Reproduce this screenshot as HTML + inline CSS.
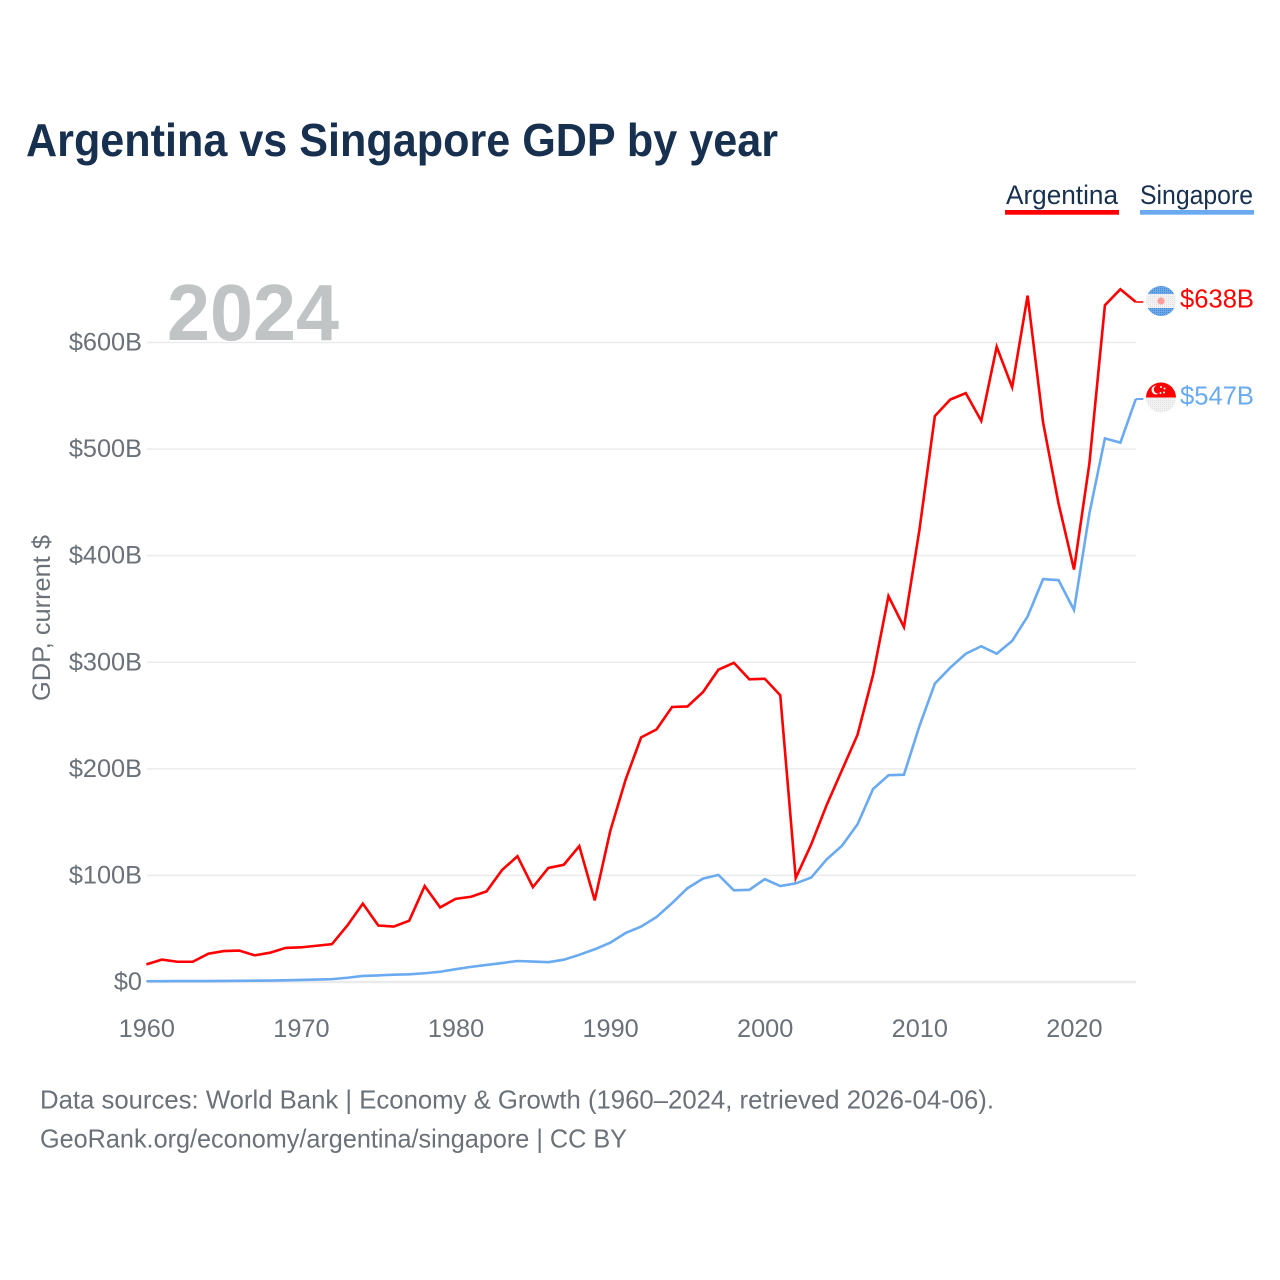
<!DOCTYPE html>
<html lang="en">
<head>
<meta charset="utf-8">
<title>Argentina vs Singapore GDP by year</title>
<style>
html,body{margin:0;padding:0;background:#fff;}
svg{display:block;font-family:"Liberation Sans",sans-serif;}
</style>
</head>
<body>
<svg id="chart" xmlns="http://www.w3.org/2000/svg" width="1280" height="1280" viewBox="0 0 1280 1280">
  <defs>
    <pattern id="dots" width="2" height="2" patternUnits="userSpaceOnUse">
      <rect width="2" height="2" fill="#f1f1f1"/>
      <rect width="1" height="1" fill="#e2e2e2"/>
    </pattern>
    <pattern id="blue-dots" width="2" height="2" patternUnits="userSpaceOnUse">
      <rect width="2" height="2" fill="#6aa9ea"/>
      <rect width="1" height="1" fill="#4c86cf"/>
    </pattern>
    <clipPath id="ar-clip"><circle cx="1161" cy="301" r="15"/></clipPath>
    <clipPath id="sg-clip"><circle cx="1161" cy="397.5" r="15"/></clipPath>
  </defs>

  <text x="26" y="156" font-size="46" font-weight="700" fill="#18304f" textLength="752" lengthAdjust="spacingAndGlyphs">Argentina vs Singapore GDP by year</text>

  <g>
    <g>
      <text x="1006" y="204" font-size="27" fill="#18304f" textLength="112" lengthAdjust="spacingAndGlyphs">Argentina</text>
      <rect x="1005" y="210" width="114" height="4.7" fill="#ff0000"/>
    </g>
    <g>
      <text x="1140" y="204" font-size="27" fill="#18304f" textLength="113" lengthAdjust="spacingAndGlyphs">Singapore</text>
      <rect x="1140" y="210" width="114" height="4.7" fill="#6aaaf0"/>
    </g>
  </g>

  <g id="grid"></g>
  <text x="167" y="340" font-size="80" font-weight="700" fill="#c1c4c5" textLength="172" lengthAdjust="spacingAndGlyphs">2024</text>
  <g id="yticks"></g>
  <g id="xticks"></g>
  <text transform="translate(50,618) rotate(-90)" text-anchor="middle" font-size="25" fill="#6a7178" textLength="166" lengthAdjust="spacingAndGlyphs">GDP, current $</text>
  <g id="series"></g>

  <g>
    <g clip-path="url(#ar-clip)">
      <rect x="1146" y="286" width="30" height="30" fill="url(#dots)"/>
      <rect x="1146" y="286" width="30" height="8" fill="url(#blue-dots)"/>
      <rect x="1146" y="308" width="30" height="8" fill="url(#blue-dots)"/>
      <circle cx="1161" cy="301" r="3.6" fill="#ff9d9d"/>
    </g>
  </g>
  <g>
    <g clip-path="url(#sg-clip)">
      <rect x="1146" y="382.5" width="30" height="30" fill="url(#dots)"/>
      <rect x="1146" y="382.5" width="30" height="15" fill="#ff0000"/>
      <circle cx="1156" cy="390" r="4.5" fill="#fff"/>
      <circle cx="1158" cy="389.5" r="4.2" fill="#ff0000"/>
      <circle cx="1161" cy="387" r="1" fill="#fff"/>
      <circle cx="1164.5" cy="388.5" r="1" fill="#fff"/>
      <circle cx="1164" cy="392.5" r="1" fill="#fff"/>
      <circle cx="1160.5" cy="393" r="1" fill="#fff"/>
    </g>
  </g>

  <text x="1180" y="307.5" font-size="26" fill="#ff0000" textLength="74" lengthAdjust="spacingAndGlyphs">$638B</text>
  <text x="1180" y="404.5" font-size="26" fill="#6aaaf0" textLength="74" lengthAdjust="spacingAndGlyphs">$547B</text>

  <text x="40" y="1108.5" font-size="26" fill="#6a7178" textLength="954" lengthAdjust="spacingAndGlyphs">Data sources: World Bank | Economy &amp; Growth (1960–2024, retrieved 2026-04-06).</text>
  <text x="40" y="1147.5" font-size="26" fill="#6a7178" textLength="587" lengthAdjust="spacingAndGlyphs">GeoRank.org/economy/argentina/singapore | CC BY</text>
</svg>
<script>
const firstYear = 1960;
const argentinaValues = [16.5,21,19,19,26.5,29,29.5,25,27.5,32,32.5,34,35.5,53,73.5,53,52,57.5,90,70,78,80,85,105,118,89,107,110,127.5,76.6,141.5,190,229.5,237,258,258.5,272,293,299.5,284,284.5,269,97.5,129,166,199,232,288,362,333,424,531,546.5,552.5,526.5,596,558,644,525,449,387,487,635,650,638];
const singaporeValues = [0.7,0.8,0.9,0.9,0.9,1,1.1,1.2,1.3,1.6,1.9,2.3,2.7,4,5.7,6.2,6.9,7.2,8.2,9.6,12,14.2,16,17.8,19.7,19.2,18.6,20.9,25.5,30.7,36.9,46,52,61,74,88,97,100.5,86,86.5,96.5,90,92.5,98,115,128,148,181,194,194.5,240,280,295,308,315,308,320,343,378,377,349,440,510,506,547];
const yTickValues = [0,100,200,300,400,500,600];
const yTickLabels = ["$0","$100B","$200B","$300B","$400B","$500B","$600B"];
const xTickYears = [1960,1970,1980,1990,2000,2010,2020];

const NS = "http://www.w3.org/2000/svg";
function xScale(year){ return 146.4 + (year - 1960) * 15.46; }
function yScale(value){ return 982 - value * (982 - 342.5) / 600; }
function make(tag, attrs){
  const el = document.createElementNS(NS, tag);
  for (const k in attrs) el.setAttribute(k, attrs[k]);
  return el;
}

const grid = document.getElementById("grid");
const yticks = document.getElementById("yticks");
yTickValues.forEach(function(v, i){
  const line = make("line", {x1:147, x2:1136, y1:yScale(v), y2:yScale(v), stroke:"#ebebeb", "stroke-width": v === 0 ? 2.5 : 1.5});
  
  
  grid.appendChild(line);
  const label = make("text", {x:142, y:yScale(v) + 8, "text-anchor":"end", "font-size":25.3, fill:"#6a7178"});
  
  
  label.textContent = yTickLabels[i];
  yticks.appendChild(label);
});

const xticks = document.getElementById("xticks");
xTickYears.forEach(function(year){
  const label = make("text", {x:xScale(year) + 0.4, y:1037, "text-anchor":"middle", "font-size":25.3, fill:"#6a7178"});
  
  
  label.textContent = String(year);
  xticks.appendChild(label);
});

const seriesGroup = document.getElementById("series");
function linePoints(values){
  const pts = values.map(function(v, i){ return xScale(firstYear + i).toFixed(2) + "," + yScale(v).toFixed(2); });
  return pts.join(" ");
}
function tailPoints(values){
  const last = values.length - 1;
  const endX = xScale(firstYear + last);
  const endY = yScale(values[last]);
  return endX.toFixed(2) + "," + endY.toFixed(2) + " " + (endX + 7.5).toFixed(2) + "," + endY.toFixed(2);
}

const singaporeLine = make("polyline", {points:linePoints(singaporeValues), fill:"none", stroke:"#6aaaf0", "stroke-width":2.6, "stroke-linejoin":"miter"});


seriesGroup.appendChild(singaporeLine);

const singaporeTail = make("polyline", {points:tailPoints(singaporeValues), fill:"none", stroke:"#6aaaf0", "stroke-width":2});


seriesGroup.appendChild(singaporeTail);

const argentinaLine = make("polyline", {points:linePoints(argentinaValues), fill:"none", stroke:"#ff0000", "stroke-width":2.6, "stroke-linejoin":"miter"});


seriesGroup.appendChild(argentinaLine);

const argentinaTail = make("polyline", {points:tailPoints(argentinaValues), fill:"none", stroke:"#ff3c3c", "stroke-width":2});


seriesGroup.appendChild(argentinaTail);
</script>
</body>
</html>
